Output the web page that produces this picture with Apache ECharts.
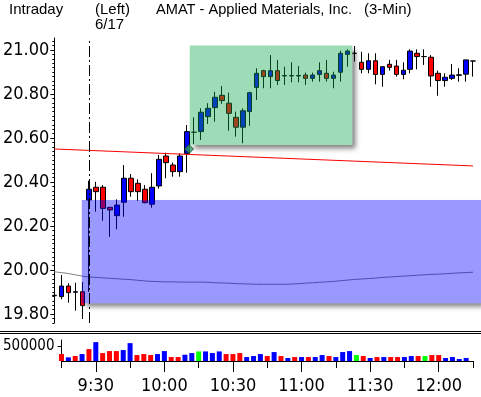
<!DOCTYPE html>
<html>
<head>
<meta charset="UTF-8">
<title>AMAT Intraday</title>
<script type="text/javascript" src="https://cdn.jsdelivr.net/npm/echarts@6/dist/echarts.min.js"></script>
<style>
html, body { margin: 0; padding: 0; background: #fff; }
#main { width: 481px; height: 397px; }
</style>
</head>
<body>
<div id="main"></div>
<script type="text/javascript">
// 3-min bars, 9:15 .. 12:15
var times = ['9:15','9:18','9:21','9:24','9:27','9:30','9:33','9:36','9:39','9:42',
	'9:45','9:48','9:51','9:54','9:57','10:00','10:03','10:06','10:09','10:12',
	'10:15','10:18','10:21','10:24','10:27','10:30','10:33','10:36','10:39','10:42',
	'10:45','10:48','10:51','10:54','10:57','11:00','11:03','11:06','11:09','11:12',
	'11:15','11:18','11:21','11:24','11:27','11:30','11:33','11:36','11:39','11:42',
	'11:45','11:48','11:51','11:54','11:57','12:00','12:03','12:06','12:09','12:12','12:15'];
var opens = [19.885,19.879,19.927,19.899,19.901,20.318,20.376,20.376,20.285,20.247,
	20.308,20.417,20.394,20.367,20.299,20.382,20.518,20.477,20.447,20.530,
	20.626,20.629,20.697,20.738,20.794,20.758,20.694,20.649,20.720,20.830,
	20.906,20.879,20.906,20.882,20.884,20.882,20.886,20.871,20.889,20.894,
	20.871,20.899,20.980,20.985,20.944,20.912,20.951,20.889,20.935,20.927,
	20.889,20.912,20.985,20.970,20.967,20.894,20.861,20.871,20.885,20.890,20.950];
var closes = [19.883,19.927,19.897,19.901,19.838,20.367,20.356,20.280,20.273,20.295,
	20.417,20.356,20.356,20.306,20.376,20.503,20.488,20.447,20.518,20.629,
	20.626,20.717,20.735,20.785,20.770,20.712,20.649,20.724,20.806,20.894,
	20.879,20.906,20.861,20.884,20.882,20.884,20.871,20.886,20.906,20.871,
	20.886,20.985,20.995,20.985,20.912,20.951,20.889,20.924,20.921,20.889,
	20.908,20.995,20.970,20.970,20.882,20.861,20.876,20.886,20.887,20.955,20.950];
var lows = [19.832,19.867,19.851,19.815,19.777,19.900,20.265,20.224,20.151,20.185,
	20.242,20.333,20.314,20.303,20.283,20.370,20.417,20.424,20.424,20.442,
	20.573,20.591,20.664,20.674,20.755,20.633,20.606,20.576,20.655,20.773,
	20.826,20.826,20.841,20.841,20.853,20.853,20.841,20.856,20.856,20.856,
	20.826,20.856,20.924,20.947,20.894,20.894,20.844,20.833,20.906,20.879,
	20.867,20.894,20.912,20.932,20.833,20.792,20.833,20.864,20.856,20.856,20.879];
var highs = [19.895,19.977,19.940,19.942,19.945,20.406,20.401,20.386,20.285,20.321,
	20.477,20.436,20.412,20.386,20.440,20.523,20.533,20.488,20.530,20.659,
	20.694,20.735,20.758,20.810,20.836,20.806,20.720,20.735,20.810,20.917,
	20.910,20.977,20.955,20.924,20.944,20.927,20.897,20.897,20.944,20.955,
	20.901,20.997,21.003,21.018,20.992,20.985,20.985,20.924,20.955,20.955,
	20.944,21.003,21.003,21.003,20.977,20.906,20.894,20.936,20.917,20.955,20.950];
var volumes = [228000,120000,163000,228000,391000,620000,261000,326000,326000,359000,
	587000,196000,228000,196000,228000,326000,130000,130000,206000,261000,
	315000,315000,261000,315000,228000,228000,261000,130000,163000,228000,
	163000,294000,163000,98000,130000,130000,130000,130000,196000,163000,
	130000,294000,326000,196000,163000,98000,130000,130000,130000,130000,
	130000,163000,163000,163000,196000,196000,98000,130000,65000,98000];
var maValues = [19.992,19.988,19.984,19.978,19.972,19.968,19.966,19.964,19.962,19.960,
	19.958,19.956,19.953,19.950,19.948,19.947,19.946,19.946,19.945,19.945,
	19.945,19.945,19.944,19.942,19.941,19.940,19.938,19.937,19.936,19.935,
	19.935,19.935,19.935,19.935,19.936,19.938,19.940,19.942,19.944,19.946,
	19.948,19.951,19.954,19.957,19.959,19.961,19.963,19.966,19.968,19.970,
	19.972,19.974,19.976,19.978,19.980,19.981,19.983,19.985,19.987,19.988,19.990];
var trendX = [0, 60];
var trendY = [20.55, 20.473];
// boxes: [x from, x to, price low, price high]
var gapBox = [3.93, 61.14, 19.849, 20.318];
var rangeBox = [19.4, 42.7, 20.568, 21.02];
var gemPoint = [19.3, 20.55];
var priceTicks = [19.8, 20.0, 20.2, 20.4, 20.6, 20.8, 21.0];
var volTicks = [500000];
var timeLabelIdx = [5, 15, 25, 35, 45, 55];
var timeTickIdx = [0, 10, 20, 30, 40, 50, 60];

var NARROW = '"Liberation Sans Narrow","DejaVu Sans Condensed","Liberation Sans",sans-serif';
var SANS = '"Liberation Sans",Arial,sans-serif';

var candles = [];
for (var i = 0; i < times.length; i++) {
	candles.push([i, opens[i], closes[i], lows[i], highs[i]]);
}
var vols = volumes.map(function (v, i) {
	var c = closes[i] > opens[i] ? '#0000ff' : (closes[i] < opens[i] ? '#ff0000' : '#00ff00');
	return { value: [i, v], itemStyle: { color: c } };
});
var ma = maValues.map(function (v, i) { return [i, v]; });
var trend = trendX.map(function (x, i) { return [x, trendY[i]]; });
var minorTicks = [];
for (var k = 988; k <= 1052; k++) minorTicks.push(k / 50);

var boxFills = ['rgba(0,0,255,0.4)', 'rgba(12,167,78,0.4)'];
function boxRect(params, api, fill, shadow) {
	var p1 = api.coord([api.value(0), api.value(3)]);
	var p2 = api.coord([api.value(1), api.value(2)]);
	var style = { fill: fill };
	if (shadow) {
		style.shadowBlur = 5;
		style.shadowColor = 'rgba(0,0,0,0.5)';
		style.shadowOffsetX = 4;
		style.shadowOffsetY = 4;
	}
	return { type: 'rect', shape: { x: p1[0], y: p1[1], width: p2[0] - p1[0], height: p2[1] - p1[1] }, style: style };
}

var myChart = echarts.init(document.getElementById('main'));
var option = {
	animation: false,
	grid: [
		{ left: 53, right: 0, top: 38, height: 285 },
		{ left: 53, right: 8, top: 340, height: 21 }
	],
	xAxis: [
		{ type: 'value', gridIndex: 0, min: 0, max: 61.14, show: false },
		{
			type: 'value', gridIndex: 1, min: 0, max: 60, position: 'bottom',
			splitLine: { show: false },
			axisLine: { lineStyle: { color: '#000', width: 1 } },
			axisTick: { customValues: timeLabelIdx, length: 11, lineStyle: { color: '#000' } },
			axisLabel: {
				customValues: timeLabelIdx, margin: 16, color: '#000',
				fontFamily: NARROW, fontSize: 18,
				formatter: function (v) { return times[v]; }
			}
		},
		{
			type: 'value', gridIndex: 1, min: 0, max: 60, position: 'bottom',
			splitLine: { show: false }, axisLine: { show: false },
			axisTick: { customValues: timeTickIdx, length: 7, lineStyle: { color: '#000' } },
			axisLabel: { show: false }
		}
	],
	yAxis: [
		{
			type: 'value', gridIndex: 0, min: 19.759, max: 21.0545, position: 'left',
			splitLine: { show: false },
			axisLine: { show: true, lineStyle: { color: '#000', width: 1 } },
			axisTick: { customValues: priceTicks, length: 4, lineStyle: { color: '#000' } },
			axisLabel: {
				customValues: priceTicks, margin: 5, color: '#000',
				fontFamily: NARROW, fontSize: 18,
				formatter: function (v) { return v.toFixed(2); }
			}
		},
		{
			type: 'value', gridIndex: 0, min: 19.759, max: 21.0545, position: 'left',
			splitLine: { show: false }, axisLine: { show: false },
			axisTick: { customValues: minorTicks, length: 2, lineStyle: { color: '#000' } },
			axisLabel: { show: false }
		},
		{
			type: 'value', gridIndex: 1, min: 0, max: 690000, position: 'left',
			splitLine: { show: false },
			axisLine: { show: true, lineStyle: { color: '#000', width: 1 } },
			axisTick: { customValues: volTicks, length: 4, lineStyle: { color: '#000' } },
			axisLabel: {
				customValues: volTicks, margin: 7, color: '#000',
				fontFamily: NARROW, fontSize: 15,
				formatter: function (v) { return String(v); }
			}
		}
	],
	graphic: [
		{ type: 'text', left: 9, top: 2, style: { text: 'Intraday', font: '15px ' + SANS, fill: '#000' } },
		{ type: 'text', left: 95, top: 2, style: { text: '(Left)', font: '15px ' + SANS, fill: '#000' } },
		{ type: 'text', left: 156, top: 2, style: { text: 'AMAT - Applied Materials, Inc.', font: '14.6px ' + SANS, fill: '#000' } },
		{ type: 'text', left: 364, top: 2, style: { text: '(3-Min)', font: '15px ' + SANS, fill: '#000' } },
		{ type: 'text', left: 95, top: 17, style: { text: '6/17', font: '15px ' + SANS, fill: '#000' } },
		{ type: 'line', shape: { x1: 0, y1: 331.5, x2: 481, y2: 331.5 }, style: { stroke: '#000', lineWidth: 1 } },
		{ type: 'line', shape: { x1: 0, y1: 333.5, x2: 481, y2: 333.5 }, style: { stroke: '#000', lineWidth: 1 } }
	],
	series: [
		{
			// white backing with drop shadow under the boxes
			type: 'custom', xAxisIndex: 0, yAxisIndex: 0, z: 0, silent: true, clip: false,
			data: [gapBox, rangeBox],
			renderItem: function (params, api) { return boxRect(params, api, '#fff', true); }
		},
		{
			type: 'line', xAxisIndex: 0, yAxisIndex: 0, z: 1, data: ma,
			symbol: 'none', silent: true,
			lineStyle: { color: '#808080', width: 1 }
		},
		{
			type: 'candlestick', xAxisIndex: 0, yAxisIndex: 0, z: 2, clip: false,
			data: candles, encode: { x: 0, y: [1, 2, 3, 4] }, barWidth: 5,
			itemStyle: {
				color: '#0000ff', color0: '#ff0000',
				borderColor: '#000', borderColor0: '#000', borderColorDoji: '#000', borderWidth: 1
			},
			markLine: {
				silent: true, symbol: ['none', 'none'], label: { show: false },
				lineStyle: { color: '#000', width: 1, type: [11, 3, 2, 3] },
				data: [{ xAxis: 5 }]
			}
		},
		{
			type: 'custom', xAxisIndex: 0, yAxisIndex: 0, z: 3, silent: true, clip: false,
			data: [gapBox, rangeBox],
			renderItem: function (params, api) { return boxRect(params, api, boxFills[params.dataIndex], false); }
		},
		{
			type: 'line', xAxisIndex: 0, yAxisIndex: 0, z: 4, data: trend,
			symbol: 'none', silent: true,
			lineStyle: { color: '#ff0000', width: 1 }
		},
		{
			type: 'scatter', xAxisIndex: 0, yAxisIndex: 0, z: 5, data: [gemPoint],
			symbol: 'diamond', symbolSize: 9, silent: true,
			itemStyle: { color: '#2f9e5f', borderColor: '#0b3d20', borderWidth: 1 }
		},
		{
			type: 'bar', xAxisIndex: 1, yAxisIndex: 2, data: vols, barWidth: 5
		}
	]
};
myChart.setOption(option);
</script>
</body>
</html>
